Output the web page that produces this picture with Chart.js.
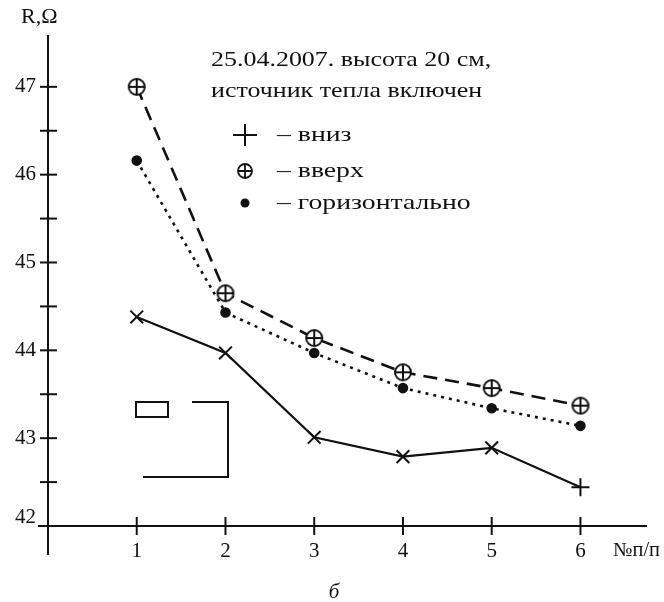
<!DOCTYPE html>
<html>
<head>
<meta charset="utf-8">
<script src="https://cdn.jsdelivr.net/npm/chart.js@4.4.1/dist/chart.umd.min.js"></script>
<style>
  html, body { margin: 0; padding: 0; background: #fff; }
  #wrap { position: relative; width: 664px; height: 602px; }
</style>
</head>
<body>
<div id="wrap"><canvas id="r-chart"></canvas></div>
<script>
// measurement number (№п/п)
const positions = [1, 2, 3, 4, 5, 6];
// resistance, Ohm
const downVals = [44.38, 43.97, 43.01, 42.79, 42.89, 42.44];
const upVals = [47.0, 44.65, 44.14, 43.75, 43.57, 43.37];
const horizVals = [46.16, 44.43, 43.97, 43.57, 43.34, 43.14];

const xTickLabels = ["1", "2", "3", "4", "5", "6"];
const yTickLabels = ["42", "43", "44", "45", "46", "47"];
const yMinorTicks = [42.5, 43.5, 44.5, 45.5, 46.5];

const titleLines = ["25.04.2007. высота 20 см,", "источник тепла включен"];
const legendLabels = ["– вниз", "– вверх", "– горизонтально"];

const serif = "'Liberation Serif', 'DejaVu Serif', serif";

function pts(vals) {
  return positions.map((p, i) => ({ x: p, y: vals[i] }));
}

// text slightly stretched sideways, like the scan
function wideText(ctx, t, x, y, sx) {
  ctx.save();
  ctx.translate(x, y);
  ctx.scale(sx, 1);
  ctx.fillText(t, 0, 0);
  ctx.restore();
}

// circle with a plus inside, used as point style for "вверх"
function circlePlus(r) {
  const c = document.createElement("canvas");
  const s = r * 2 + 4;
  c.width = s; c.height = s;
  const g = c.getContext("2d");
  g.strokeStyle = "#111";
  g.lineWidth = 2;
  g.fillStyle = "#fff";
  g.beginPath();
  g.arc(s / 2, s / 2, r, 0, Math.PI * 2);
  g.fill();
  g.stroke();
  g.beginPath();
  g.moveTo(s / 2 - r, s / 2); g.lineTo(s / 2 + r, s / 2);
  g.moveTo(s / 2, s / 2 - r); g.lineTo(s / 2, s / 2 + r);
  g.stroke();
  return c;
}
const cpImg = circlePlus(8);

const axesPlugin = {
  id: "axesPlugin",
  afterDraw(chart) {
    const ctx = chart.ctx;
    const xs = chart.scales.x, ys = chart.scales.y;
    const x0 = xs.getPixelForValue(0);
    const y0 = ys.getPixelForValue(42);
    ctx.save();
    ctx.strokeStyle = "#111";
    ctx.fillStyle = "#111";
    ctx.lineWidth = 2;

    // axes
    ctx.beginPath();
    ctx.moveTo(x0, chart.chartArea.top);
    ctx.lineTo(x0, y0 + 29);
    ctx.moveTo(x0 - 10, y0);
    ctx.lineTo(chart.chartArea.right, y0);
    ctx.stroke();

    // y ticks
    yTickLabels.map(Number).concat(yMinorTicks).forEach(v => {
      if (v === 42) return;
      const y = ys.getPixelForValue(v);
      ctx.beginPath();
      ctx.moveTo(x0 - 8, y);
      ctx.lineTo(x0 + 9, y);
      ctx.stroke();
    });
    // x ticks
    positions.forEach(p => {
      const x = xs.getPixelForValue(p);
      ctx.beginPath();
      ctx.moveTo(x, y0 - 9);
      ctx.lineTo(x, y0 + 9);
      ctx.stroke();
    });

    // tick labels
    ctx.font = "21px " + serif;
    ctx.textAlign = "right";
    ctx.textBaseline = "middle";
    yTickLabels.forEach((t, i) => {
      let y = ys.getPixelForValue(Number(t));
      if (i === 0) y -= 9;
      ctx.fillText(t, x0 - 12, y);
    });
    ctx.textAlign = "center";
    xTickLabels.forEach((t, i) => {
      ctx.fillText(t, xs.getPixelForValue(positions[i]), y0 + 25);
    });

    // axis titles
    ctx.font = "20px " + serif;
    ctx.textAlign = "left";
    wideText(ctx, "R,Ω", 21, 18, 1.1);
    wideText(ctx, "№п/п", 613, y0 + 25, 1.02);
    ctx.font = "italic 21px " + serif;
    ctx.textAlign = "center";
    ctx.fillText("б", 334, 592);

    // annotation
    ctx.font = "22px " + serif;
    ctx.textAlign = "left";
    wideText(ctx, titleLines[0], 211, 60, 1.18);
    wideText(ctx, titleLines[1], 211, 91, 1.18);

    // legend
    ctx.font = "22px " + serif;
    const ly = [135, 171, 203];
    legendLabels.forEach((t, i) => wideText(ctx, t, 277, ly[i], 1.26));
    ctx.lineWidth = 2;
    ctx.beginPath();
    ctx.moveTo(233, ly[0]); ctx.lineTo(257, ly[0]);
    ctx.moveTo(245, ly[0] - 11); ctx.lineTo(245, ly[0] + 11);
    ctx.stroke();
    ctx.lineWidth = 1.8;
    ctx.beginPath();
    ctx.arc(245, ly[1], 7, 0, Math.PI * 2);
    ctx.moveTo(238, ly[1]); ctx.lineTo(252, ly[1]);
    ctx.moveTo(245, ly[1] - 7); ctx.lineTo(245, ly[1] + 7);
    ctx.stroke();
    ctx.beginPath();
    ctx.arc(245, ly[2], 4.5, 0, Math.PI * 2);
    ctx.fill();

    // small inset frame left on the scan
    ctx.lineWidth = 2;
    ctx.strokeRect(136, 402, 32, 15);
    ctx.beginPath();
    ctx.moveTo(192, 402); ctx.lineTo(228, 402);
    ctx.lineTo(228, 477); ctx.lineTo(143, 477);
    ctx.stroke();
    ctx.restore();
  }
};

const config = {
  type: "scatter",
  data: {
    datasets: [
      {
        label: "вниз",
        data: pts(downVals),
        showLine: true,
        borderColor: "#111",
        borderWidth: 2.2,
        pointStyle: ["crossRot", "crossRot", "crossRot", "crossRot", "crossRot", "cross"],
        pointRadius: 9,
        pointBorderWidth: 2,
        pointBorderColor: "#111",
      },
      {
        label: "вверх",
        data: pts(upVals),
        showLine: true,
        borderColor: "#111",
        borderWidth: 2.6,
        borderDash: [14, 8],
        pointStyle: cpImg,
      },
      {
        label: "горизонтально",
        data: pts(horizVals),
        showLine: true,
        borderColor: "#111",
        borderWidth: 2.6,
        borderDash: [3, 5],
        pointStyle: "circle",
        pointRadius: 4,
        pointBackgroundColor: "#111",
        pointBorderColor: "#111",
      },
    ],
  },
  options: {
    responsive: true,
    maintainAspectRatio: false,
    animation: false,
    clip: false,
    layout: { padding: { left: 48, right: 17, top: 35, bottom: 76 } },
    plugins: { legend: { display: false }, tooltip: { enabled: false } },
    scales: {
      x: { type: "linear", min: 0, max: 6.75, display: false },
      y: { type: "linear", min: 42, max: 47.59, display: false },
    },
  },
  plugins: [axesPlugin],
};

new Chart(document.getElementById("r-chart").getContext("2d"), config);
</script>
</body>
</html>
